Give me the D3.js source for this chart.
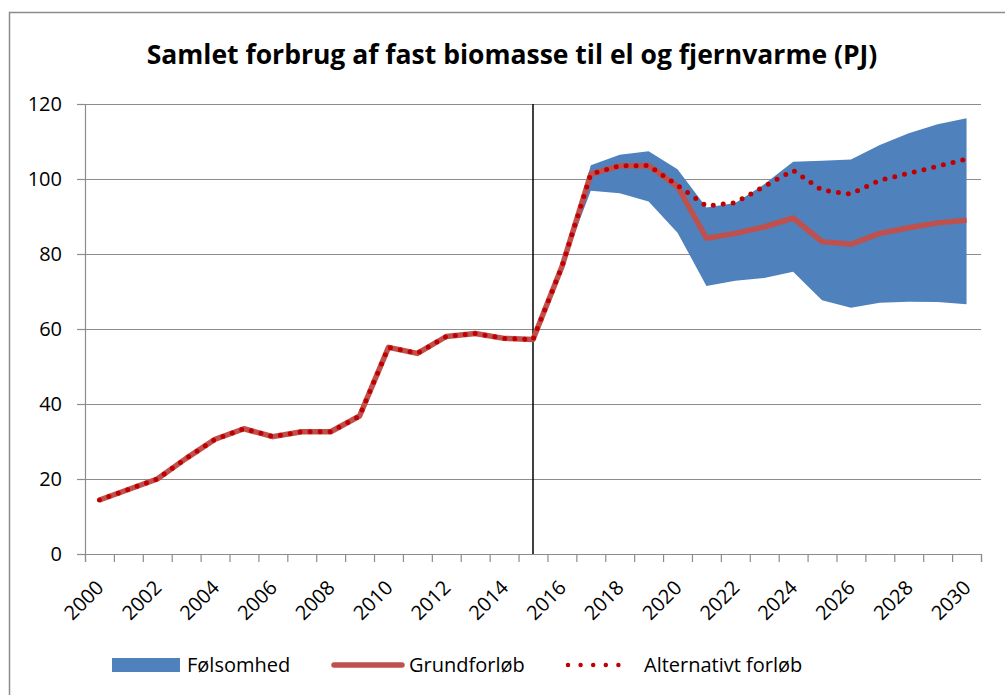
<!DOCTYPE html>
<html>
<head>
<meta charset="utf-8">
<style>
  body { margin: 0; background: #fff; }
  svg { display: block; font-family: "Open Sans", sans-serif; }
</style>
</head>
<body>
<div id="chart"></div>
<script src="https://d3js.org/d3.v7.min.js"></script>
<script>
'use strict';

var years = [2000, 2001, 2002, 2003, 2004, 2005, 2006, 2007, 2008, 2009,
             2010, 2011, 2012, 2013, 2014, 2015, 2016, 2017, 2018, 2019,
             2020, 2021, 2022, 2023, 2024, 2025, 2026, 2027, 2028, 2029, 2030];

var grundforloeb = [14.4, 17.2, 20.0, 25.5, 30.6, 33.4, 31.3, 32.6, 32.6, 36.8,
                    55.1, 53.5, 58.0, 58.8, 57.5, 57.2, 76.6, 101.3, 103.5, 103.6,
                    98.0, 84.2, 85.5, 87.2, 89.6, 83.3, 82.6, 85.5, 87.0, 88.3, 89.0];

var alternativt = [14.4, 17.2, 20.0, 25.5, 30.6, 33.4, 31.3, 32.6, 32.6, 36.8,
                   55.1, 53.5, 58.0, 58.8, 57.5, 57.2, 76.6, 101.3, 103.5, 103.6,
                   98.3, 92.8, 93.7, 98.0, 102.3, 97.0, 96.0, 99.7, 101.5, 103.4, 105.3];

// sensitivity band, from 2015 onwards
var bandYears = [2015, 2016, 2017, 2018, 2019, 2020, 2021, 2022, 2023, 2024, 2025, 2026, 2027, 2028, 2029, 2030];
var bandHigh = [57.2, 76.6, 103.7, 106.5, 107.4, 102.6, 92.4, 93.6, 98.6, 104.6, 104.9, 105.2, 109.1, 112.2, 114.6, 116.2];
var bandLow  = [57.2, 76.6, 96.9, 96.2, 94.0, 85.7, 71.5, 72.9, 73.6, 75.3, 67.7, 65.7, 67.0, 67.3, 67.2, 66.6];

var yTicks = [0, 20, 40, 60, 80, 100, 120];
var xLabelYears = years.filter(function(d) { return d % 2 === 0; });
var splitYear = 2015;

var title = 'Samlet forbrug af fast biomasse til el og fjernvarme (PJ)';
var legendLabels = ['Følsomhed', 'Grundforløb', 'Alternativt forløb'];

var width = 1005, height = 695;
var plot = { left: 85, right: 981, top: 104, bottom: 554 };

var svg = d3.select('#chart').append('svg')
    .attr('width', width)
    .attr('height', height);

// chart frame
svg.append('rect')
    .attr('x', 9.5).attr('y', 12.5)
    .attr('width', 1010).attr('height', 700)
    .attr('fill', 'none')
    .attr('stroke', '#8c8c8c')
    .attr('stroke-width', 1.5);

svg.append('text')
    .attr('x', 512).attr('y', 64)
    .attr('text-anchor', 'middle')
    .attr('font-size', 26.5)
    .attr('font-weight', 'bold')
    .text(title);

// x: category index, points sit in the middle of each category
var x = d3.scaleLinear().domain([-0.5, years.length - 0.5]).range([plot.left, plot.right]);
var xYear = function(yr) { return x(years.indexOf(yr)); };
var y = d3.scaleLinear().domain([0, 120]).range([plot.bottom, plot.top]);

// gridlines
svg.append('g')
    .attr('transform', 'translate(' + plot.left + ',0)')
    .call(d3.axisLeft(y).tickValues(yTicks).tickSize(-(plot.right - plot.left)).tickFormat(''))
    .call(function(g) {
      g.select('.domain').remove();
      g.selectAll('line').attr('stroke', '#8c8c8c').attr('stroke-width', 1.2);
    });

// y axis
svg.append('g')
    .attr('transform', 'translate(' + plot.left + ',0)')
    .call(d3.axisLeft(y).tickValues(yTicks).tickSize(8).tickPadding(15))
    .call(function(g) {
      g.select('.domain').attr('stroke', '#8c8c8c').attr('stroke-width', 1.2);
      g.selectAll('line').attr('stroke', '#8c8c8c').attr('stroke-width', 1.2);
      g.selectAll('text').attr('font-size', 20).attr('fill', '#000')
        .attr('font-family', '"Open Sans", sans-serif');
    });

// x axis: tick marks between categories
svg.append('g')
    .attr('transform', 'translate(0,' + plot.bottom + ')')
    .call(d3.axisBottom(x).tickValues(d3.range(-0.5, years.length, 1)).tickSize(8).tickFormat(''))
    .call(function(g) {
      g.select('.domain').attr('stroke', '#8c8c8c').attr('stroke-width', 1.2);
      g.selectAll('line').attr('stroke', '#8c8c8c').attr('stroke-width', 1.2);
    });

// x labels, rotated
svg.append('g')
    .attr('transform', 'translate(0,' + plot.bottom + ')')
    .call(d3.axisBottom(x).tickValues(xLabelYears.map(function(d) { return years.indexOf(d); }))
      .tickSize(0).tickFormat(function(i) { return years[i]; }))
    .call(function(g) {
      g.select('.domain').remove();
      g.selectAll('text')
        .attr('font-size', 20).attr('fill', '#000')
        .attr('font-family', '"Open Sans", sans-serif')
        .attr('text-anchor', 'end')
        .attr('dy', 0)
        .attr('y', 0)
        .attr('transform', 'translate(5,35) rotate(-45)');
    });

// sensitivity band
var area = d3.area()
    .x(function(d, i) { return xYear(bandYears[i]); })
    .y0(function(d, i) { return y(bandLow[i]); })
    .y1(function(d, i) { return y(bandHigh[i]); });

svg.append('path')
    .datum(bandYears)
    .attr('d', area)
    .attr('fill', '#4f81bd');

// split line
svg.append('line')
    .attr('x1', xYear(splitYear)).attr('x2', xYear(splitYear))
    .attr('y1', plot.top).attr('y2', plot.bottom)
    .attr('stroke', '#000')
    .attr('stroke-width', 1.5);

var line = d3.line()
    .x(function(d, i) { return x(i); })
    .y(function(d) { return y(d); });

svg.append('path')
    .datum(grundforloeb)
    .attr('d', line)
    .attr('fill', 'none')
    .attr('stroke', '#c0504d')
    .attr('stroke-width', 5.5)
    .attr('stroke-linejoin', 'round');

svg.append('path')
    .datum(alternativt)
    .attr('d', line)
    .attr('fill', 'none')
    .attr('stroke', '#c00000')
    .attr('stroke-width', 5)
    .attr('stroke-linecap', 'round')
    .attr('stroke-dasharray', '0 10');

// legend
var legend = svg.append('g').attr('font-size', 20);

legend.append('rect')
    .attr('x', 112).attr('y', 658)
    .attr('width', 68).attr('height', 14)
    .attr('fill', '#4f81bd');
legend.append('text').attr('x', 187).attr('y', 672).text(legendLabels[0]);

legend.append('line')
    .attr('x1', 334).attr('x2', 402)
    .attr('y1', 665).attr('y2', 665)
    .attr('stroke', '#c0504d').attr('stroke-width', 5.5)
    .attr('stroke-linecap', 'round');
legend.append('text').attr('x', 409).attr('y', 672).text(legendLabels[1]);

legend.append('line')
    .attr('x1', 568).attr('x2', 631)
    .attr('y1', 665).attr('y2', 665)
    .attr('stroke', '#c00000').attr('stroke-width', 4.5)
    .attr('stroke-linecap', 'round')
    .attr('stroke-dasharray', '0 12.6');
legend.append('text').attr('x', 644).attr('y', 672).text(legendLabels[2]);
</script>
</body>
</html>
